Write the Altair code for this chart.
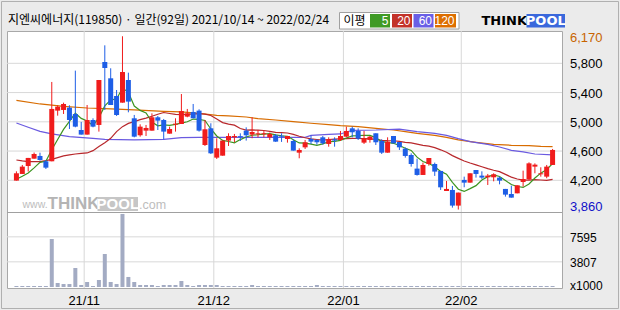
import altair as alt
import pandas as pd

# ---------------- data ----------------
opens = [4196, 4287, 4396, 4496, 4533, 4460, 4460, 5153, 5162, 5194,
         5107, 4888, 4825, 5025, 4957, 5818, 5595, 5353, 5262, 5572,
         5048, 4816, 4879, 4879, 5062, 5025, 4838, 4961, 4970, 5071,
         5135, 5153, 4683, 4911, 4510, 4537, 4743, 4788, 4804, 4880,
         4825, 4829, 4829, 4788, 4816, 4810, 4765, 4738, 4578, 4651,
         4765, 4752, 4788, 4697, 4761, 4752, 4797, 4911, 4875, 4715,
         4752, 4843, 4738, 4578, 4806, 4724, 4633, 4546, 4360, 4273,
         4423, 4423, 4328, 4054, 4068, 3854, 4205, 4168, 4341, 4264,
         4241, 4241, 4237, 4082, 4013, 4022, 4177, 4214, 4387, 4282,
         4250, 4410]
highs = [4323, 4410, 4506, 4580, 4578, 4478, 5545, 5226, 5262, 5226,
         5700, 4998, 5230, 5048, 5572, 6046, 5732, 5435, 6170, 5672,
         5094, 4966, 4957, 5116, 5080, 5039, 4934, 5048, 5380, 5176,
         5244, 5171, 5025, 4980, 4775, 4743, 4843, 4834, 4843, 4925,
         5062, 4888, 4879, 4852, 4834, 4843, 4806, 4761, 4638, 4752,
         4811, 4761, 4806, 4788, 4788, 4875, 4934, 4934, 4911, 4875,
         4806, 4843, 4761, 4788, 4806, 4724, 4651, 4569, 4496, 4442,
         4505, 4442, 4328, 4191, 4123, 4032, 4250, 4296, 4341, 4323,
         4287, 4296, 4250, 4082, 4127, 4132, 4332, 4446, 4432, 4378,
         4410, 4629]
lows = [4196, 4287, 4320, 4496, 4469, 4355, 4460, 5084, 5107, 4902,
        4925, 4825, 4825, 4925, 4866, 5162, 5230, 5080, 5262, 5130,
        4788, 4797, 4806, 4879, 4888, 4761, 4838, 4866, 4970, 5062,
        5048, 4866, 4670, 4560, 4492, 4537, 4670, 4720, 4738, 4743,
        4775, 4788, 4788, 4752, 4725, 4725, 4715, 4606, 4501, 4629,
        4697, 4688, 4688, 4660, 4660, 4738, 4788, 4788, 4752, 4697,
        4715, 4683, 4560, 4578, 4706, 4615, 4510, 4387, 4264, 4273,
        4400, 4260, 4068, 4054, 3826, 3800, 4105, 4168, 4237, 4218,
        4136, 4186, 4145, 3977, 3963, 4022, 4114, 4205, 4296, 4250,
        4228, 4410]
closes = [4296, 4387, 4506, 4560, 4478, 4373, 5176, 5207, 5244, 5025,
          4934, 4825, 5025, 4934, 5572, 5736, 5230, 5093, 5681, 5276,
          4797, 4934, 4916, 5062, 5016, 4866, 4902, 4975, 5148, 5116,
          5048, 4879, 4898, 4569, 4638, 4743, 4806, 4806, 4790, 4816,
          4861, 4843, 4843, 4834, 4729, 4797, 4806, 4606, 4615, 4720,
          4729, 4720, 4706, 4761, 4743, 4806, 4875, 4857, 4770, 4774,
          4797, 4720, 4578, 4729, 4706, 4651, 4533, 4423, 4273, 4410,
          4505, 4319, 4104, 4082, 3854, 4032, 4168, 4296, 4287, 4237,
          4264, 4282, 4196, 4004, 3963, 4132, 4218, 4432, 4414, 4296,
          4387, 4615]
volumes = [150, 150, 150, 150, 150, 150, 7270, 610, 450, 450,
           2880, 300, 760, 150, 1060, 5000, 760, 450, 11060, 1520,
           760, 300, 300, 300, 150, 300, 300, 300, 910, 300,
           150, 300, 300, 300, 300, 150, 150, 150, 150, 150,
           300, 150, 150, 150, 150, 150, 150, 150, 150, 150,
           150, 300, 150, 150, 150, 150, 150, 150, 150, 150,
           150, 150, 150, 150, 150, 150, 150, 150, 150, 150,
           150, 150, 150, 150, 150, 150, 150, 150, 150, 150,
           150, 150, 150, 150, 150, 150, 150, 150, 150, 150,
           150, 150]
ma5 = [4215, 4255, 4300, 4370, 4445, 4461, 4619, 4759, 4896, 5005,
       5117, 5047, 5011, 4949, 5058, 5218, 5299, 5313, 5462, 5403,
       5215, 5156, 5121, 4997, 4945, 4959, 4952, 4964, 4981, 5001,
       5038, 5033, 5018, 4902, 4806, 4745, 4731, 4712, 4757, 4792,
       4816, 4823, 4831, 4839, 4822, 4809, 4802, 4754, 4711, 4709,
       4695, 4678, 4698, 4727, 4732, 4747, 4778, 4808, 4810, 4816,
       4815, 4784, 4728, 4720, 4706, 4677, 4639, 4608, 4517, 4458,
       4429, 4386, 4322, 4284, 4173, 4078, 4048, 4086, 4127, 4204,
       4250, 4273, 4253, 4197, 4142, 4115, 4103, 4150, 4232, 4298,
       4349, 4429]
ma20 = [4478, 4465, 4455, 4455, 4455, 4469, 4487, 4510, 4533, 4547,
        4560, 4569, 4574, 4606, 4661, 4715, 4774, 4866, 4934, 4978,
        5003, 5030, 5051, 5076, 5103, 5127, 5114, 5102, 5097, 5102,
        5108, 5110, 5104, 5086, 5039, 4989, 4968, 4954, 4909, 4886,
        4889, 4885, 4881, 4870, 4856, 4852, 4847, 4829, 4802, 4782,
        4766, 4758, 4749, 4758, 4764, 4767, 4770, 4773, 4772, 4770,
        4767, 4760, 4747, 4742, 4741, 4733, 4720, 4711, 4694, 4678,
        4667, 4647, 4617, 4583, 4538, 4500, 4464, 4436, 4412, 4385,
        4359, 4337, 4318, 4281, 4244, 4218, 4202, 4203, 4210, 4204,
        4198, 4213]
ma60_idx = [0, 2, 4, 6, 9, 13, 15, 20, 25, 28, 31, 40, 49, 50, 53, 55, 57,
            61, 65, 68, 71, 73, 75, 77, 80, 82, 84, 86, 88, 91]
ma60_val = [4984, 4925, 4870, 4834, 4797, 4774, 4761, 4752, 4761, 4784, 4788,
            4788, 4788, 4815, 4829, 4834, 4884, 4888, 4900, 4866, 4843, 4815,
            4770, 4729, 4692, 4656, 4610, 4588, 4560, 4547]
ma120_idx = [0, 4, 8, 12, 16, 20, 25, 28, 31, 34, 36, 39, 41, 44, 47, 50, 53,
             55, 58, 61, 64, 66, 68, 71, 73, 75, 78, 81, 84, 87, 89, 91]
ma120_val = [5294, 5244, 5212, 5189, 5176, 5162, 5144, 5135, 5116, 5089, 5080,
             5066, 5043, 5025, 5002, 4980, 4961, 4948, 4934, 4911, 4888, 4866,
             4843, 4815, 4788, 4752, 4720, 4692, 4679, 4674, 4665, 4660]
month_labels = ["21/11", "21/12", "22/01", "22/02"]
month_start_idx = [12, 34, 56, 76]
price_grid = [5800, 5400, 5000, 4600, 4200]
price_max_label = [6170]
price_min_label = [3860]
vol_grid = [3807, 7595]
title_text = "지엔씨에너지(119850) · 일간(92일) 2021/10/14 ~ 2022/02/24"

# ---------------- styling ----------------
W, H = 555, 257
RED, BLUE = "#f01c1c", "#1e5ee6"
C5, C20, C60, C120 = "#3c9420", "#b8282c", "#6a5ae0", "#d86c00"
GRID = "#d8d8d8"
FONT = "Liberation Sans"
KFONT = "Noto Sans CJK KR"

xs = alt.Scale(domain=[-0.75, 91.75], range=[0, W], nice=False, zero=False)
ps = alt.Scale(domain=[3757, 6242], range=[181.7, 0], nice=False, zero=False)
vs = alt.Scale(domain=[0, 11250], range=[256, 181.7], nice=False, zero=False)

df = pd.DataFrame({"idx": list(range(len(closes))), "open": opens, "high": highs,
                   "low": lows, "close": closes, "vol": volumes,
                   "ma5": ma5, "ma20": ma20})
one = pd.DataFrame({"k": [0]})

X = alt.X("idx:Q", scale=xs, axis=None)
updown = alt.condition("datum.close >= datum.open", alt.value(RED), alt.value(BLUE))


def txt(s, x, y, size=12, color="black", font=FONT, weight="normal",
        align="left", baseline="middle"):
    return alt.Chart(one).mark_text(text=s, fontSize=size, color=color, font=font,
                                    fontWeight=weight, align=align,
                                    baseline=baseline).encode(
        x=alt.value(x), y=alt.value(y))


def box(x, x2, y, y2, fill, stroke=None, fill_opacity=1.0):
    kw = dict(fill=fill, fillOpacity=fill_opacity)
    if stroke:
        kw.update(stroke=stroke, strokeWidth=1)
    return alt.Chart(one).mark_rect(**kw).encode(
        x=alt.value(x), x2=alt.value(x2), y=alt.value(y), y2=alt.value(y2))


layers = []

# grid lines
layers.append(alt.Chart(pd.DataFrame({"p": price_grid})).mark_rule(color=GRID).encode(
    y=alt.Y("p:Q", scale=ps, axis=None), x=alt.value(0), x2=alt.value(W)))
layers.append(alt.Chart(pd.DataFrame({"v": vol_grid})).mark_rule(color=GRID).encode(
    y=alt.Y("v:Q", scale=vs, axis=None), x=alt.value(0), x2=alt.value(W)))
mdf = pd.DataFrame({"m": month_start_idx, "lab": month_labels})
layers.append(alt.Chart(mdf).transform_calculate(gx="datum.m - 0.5").mark_rule(color=GRID).encode(
    x=alt.X("gx:Q", scale=xs, axis=None), y=alt.value(0), y2=alt.value(H)))
# panel separator
layers.append(alt.Chart(one).mark_rule(color="#a0a0a0").encode(
    x=alt.value(0), x2=alt.value(W), y=alt.value(181.5)))

# watermark
layers.append(txt("www.", 15.5, 174, size=10.5, color="#bdbdbd"))
layers.append(txt("THINK", 40.5, 173, size=17, color="#b4b4b4", weight="bold"))
layers.append(box(90.5, 131, 166, 180, "#c6c6c6"))
layers.append(txt("POOL", 110.8, 173, size=15, color="white", weight="bold", align="center"))
layers.append(txt(".com", 132, 174, size=12.5, color="#bdbdbd"))

# moving averages
layers.append(alt.Chart(pd.DataFrame({"i": ma120_idx, "v": ma120_val})).mark_line(
    color=C120, strokeWidth=1.2).encode(x=alt.X("i:Q", scale=xs, axis=None),
                                        y=alt.Y("v:Q", scale=ps, axis=None)))
layers.append(alt.Chart(pd.DataFrame({"i": ma60_idx, "v": ma60_val})).mark_line(
    color=C60, strokeWidth=1.2).encode(x=alt.X("i:Q", scale=xs, axis=None),
                                       y=alt.Y("v:Q", scale=ps, axis=None)))
layers.append(alt.Chart(df).mark_line(color=C20, strokeWidth=1.2).encode(
    x=X, y=alt.Y("ma20:Q", scale=ps, axis=None)))
layers.append(alt.Chart(df).mark_line(color=C5, strokeWidth=1.2).encode(
    x=X, y=alt.Y("ma5:Q", scale=ps, axis=None)))

# candles
layers.append(alt.Chart(df).mark_rule(strokeWidth=1).encode(
    x=X, y=alt.Y("low:Q", scale=ps, axis=None), y2="high:Q", color=updown))
layers.append(alt.Chart(df).mark_bar(size=5).encode(
    x=X, y=alt.Y("open:Q", scale=ps, axis=None), y2="close:Q", color=updown))

# volume
layers.append(alt.Chart(df).mark_bar(size=4, color="#a3abc3").encode(
    x=X, y=alt.Y("vol:Q", scale=vs, axis=None)))

# right axis labels
layers.append(alt.Chart(pd.DataFrame({"p": price_grid})).mark_text(
    align="left", baseline="middle", fontSize=13, font=FONT, dy=1, color="black").encode(
    y=alt.Y("p:Q", scale=ps, axis=None), x=alt.value(563), text=alt.Text("p:Q", format=",")))
layers.append(alt.Chart(pd.DataFrame({"p": price_max_label})).mark_text(
    align="left", baseline="middle", fontSize=13, font=FONT, dy=2, color="#c86400").encode(
    y=alt.Y("p:Q", scale=ps, axis=None), x=alt.value(563), text=alt.Text("p:Q", format=",")))
layers.append(alt.Chart(pd.DataFrame({"p": price_min_label})).mark_text(
    align="left", baseline="middle", fontSize=13, font=FONT, dy=2, color="#1010c8").encode(
    y=alt.Y("p:Q", scale=ps, axis=None), x=alt.value(563), text=alt.Text("p:Q", format=",")))
layers.append(alt.Chart(pd.DataFrame({"v": vol_grid})).mark_text(
    align="left", baseline="middle", fontSize=12, font=FONT, dy=1, color="black").encode(
    y=alt.Y("v:Q", scale=vs, axis=None), x=alt.value(563), text=alt.Text("v:Q", format="d")))
layers.append(txt("x1000", 563, 255, size=12))

# month labels
layers.append(alt.Chart(mdf).transform_calculate(gx="datum.m - 0.5").mark_text(
    align="center", baseline="middle", fontSize=13, font=FONT, color="black").encode(
    x=alt.X("gx:Q", scale=xs, axis=None), y=alt.value(270), text="lab:N"))

# title
layers.append(txt(title_text, 1, -11, size=12, font=KFONT))

# MA legend box
layers.append(box(332.5, 452, -18.5, -2, "white", stroke="#a0a0a0"))
layers.append(txt("이평", 336.5, -10.5, size=12, font=KFONT))
for (x0, x1, col, lab) in [(363, 383, "#3f9a25", "5"), (385, 405, "#c33229", "20"),
                           (406.5, 426.5, "#6a5fe6", "60"), (428, 449, "#dd6e00", "120")]:
    layers.append(box(x0, x1, -17, -3.5, col))
    layers.append(txt(lab, x1 - 1.5, -10, size=12, color="white", align="right"))

# ThinkPool logo
layers.append(txt("THINK", 474.5, -10, size=13, weight="bold", font="DejaVu Sans"))
layers.append(box(519.5, 558, -17, -3.5, "#3a68dc"))
layers.append(txt("POOL", 538.8, -10, size=13, weight="bold", color="white",
                  font="DejaVu Sans", align="center"))

# outer frame
layers.append(box(-5.5, 611.5, -29.5, 277.5, "white", stroke="#b0b0b0", fill_opacity=0))

chart = alt.layer(*layers).resolve_scale(y="independent").properties(
    width=W, height=H,
    padding={"left": 7, "top": 31, "right": 58, "bottom": 22},
    autosize=alt.AutoSizeParams(type="none"),
    background="#ebebeb",
).configure_view(fill="white", stroke="#a8a8a8", strokeWidth=1)

chart.save("out.html", embed_options={"renderer": "svg", "actions": False})
